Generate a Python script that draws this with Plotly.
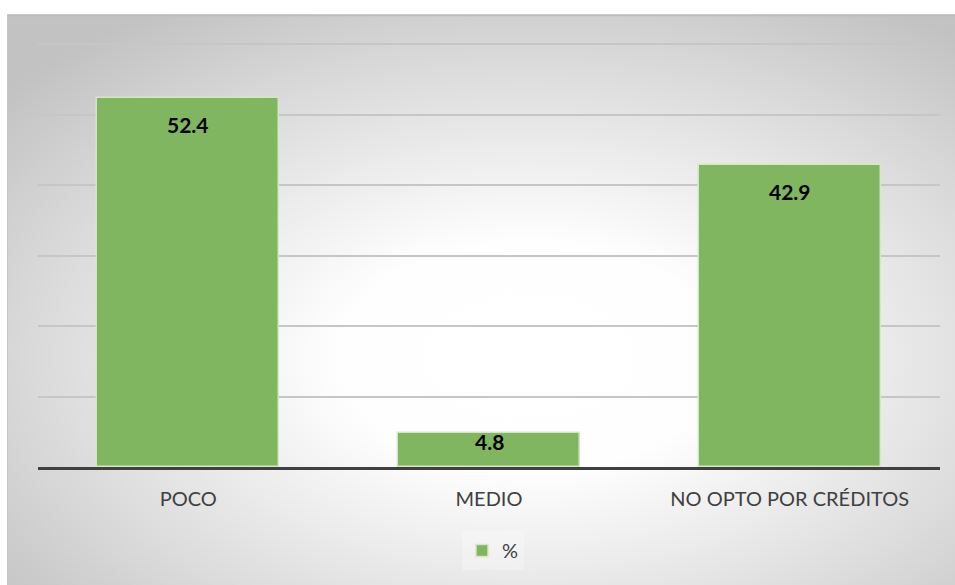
import base64
import plotly.graph_objects as go

# Survey shares (%) per category
categories = ["POCO", "MEDIO", "NO OPTO POR CRÉDITOS"]
values = [52.4, 4.8, 42.9]
series_name = "%"

W, H = 955, 585
Y_MAX = 60.3  # small headroom so the 60 gridline is drawn
M_L, M_R, M_B = 38, 15, 117.5
px_per_unit = (H - M_B - 44) / 60
M_T = 44 - (Y_MAX - 60) * px_per_unit
plot_w = W - M_L - M_R
plot_h = H - M_T - M_B

# Chart-area box (pixels) with a soft radial grey gradient
box_x0, box_y0, box_x1, box_y1 = 7, 14, 956, 586
bw, bh = box_x1 - box_x0, box_y1 - box_y0
svg = f"""<svg xmlns='http://www.w3.org/2000/svg' width='{bw}' height='{bh}' viewBox='0 0 {bw} {bh}' preserveAspectRatio='none'>
<defs><radialGradient id='g' cx='0.55' cy='0.6' r='0.72'>
<stop offset='0' stop-color='#ffffff'/>
<stop offset='0.28' stop-color='#fefefe'/>
<stop offset='0.7' stop-color='#dcdcdc'/>
<stop offset='1' stop-color='#c2c2c2'/>
</radialGradient></defs>
<rect x='0' y='0' width='{bw}' height='{bh}' fill='url(#g)'/>
<line x1='0' y1='1' x2='{bw}' y2='1' stroke='#bcbcbc' stroke-width='2'/>
<line x1='0.5' y1='0' x2='0.5' y2='{bh}' stroke='#c4c4c4' stroke-width='1'/>
</svg>"""
svg_uri = "data:image/svg+xml;base64," + base64.b64encode(svg.encode()).decode()

px = lambda x: (x - M_L) / plot_w
py = lambda y: (H - M_B - y) / plot_h

fig = go.Figure()
fig.add_trace(go.Bar(
    x=categories, y=values, name=series_name,
    width=0.606,
    marker=dict(color="#80B660", line=dict(color="rgba(214,232,200,0.95)", width=1.5)),
    hoverinfo="x+y",
))

for c, v in zip(categories, values):
    fig.add_annotation(
        x=c, y=v, text=f"<b>{v}</b>", showarrow=False,
        yanchor="middle", yshift=-27 if v > 10 else -8,
        font=dict(family="Lato", size=21, color="#000000"),
    )

fig.add_layout_image(dict(
    source=svg_uri, xref="paper", yref="paper",
    x=px(box_x0), y=py(box_y0), sizex=bw / plot_w, sizey=bh / plot_h,
    xanchor="left", yanchor="top", sizing="stretch", layer="below",
))

fig.update_layout(
    width=W, height=H,
    margin=dict(l=M_L, r=M_R, t=M_T, b=M_B, pad=0),
    paper_bgcolor="#ffffff",
    plot_bgcolor="rgba(0,0,0,0)",
    font=dict(family="Lato", color="#404040"),
    bargap=0,
    showlegend=True,
    legend=dict(
        orientation="h", x=px(493), xanchor="center", y=py(551), yanchor="middle",
        font=dict(family="Lato", size=20, color="#404040"),
        bgcolor="rgba(255,255,255,0.25)",
        itemwidth=30,
    ),
    xaxis=dict(
        showline=True, linecolor="#404040", linewidth=3,
        showgrid=False, ticks="", tickfont=dict(family="Lato", size=20, color="#404040"),
        ticklabelstandoff=12,
    ),
    yaxis=dict(
        range=[0, Y_MAX], dtick=10, showgrid=True, gridcolor="#c6c6c6", gridwidth=1.5,
        zeroline=False, showticklabels=False, ticks="", showline=False,
    ),
)

fig.write_html("out.html")
